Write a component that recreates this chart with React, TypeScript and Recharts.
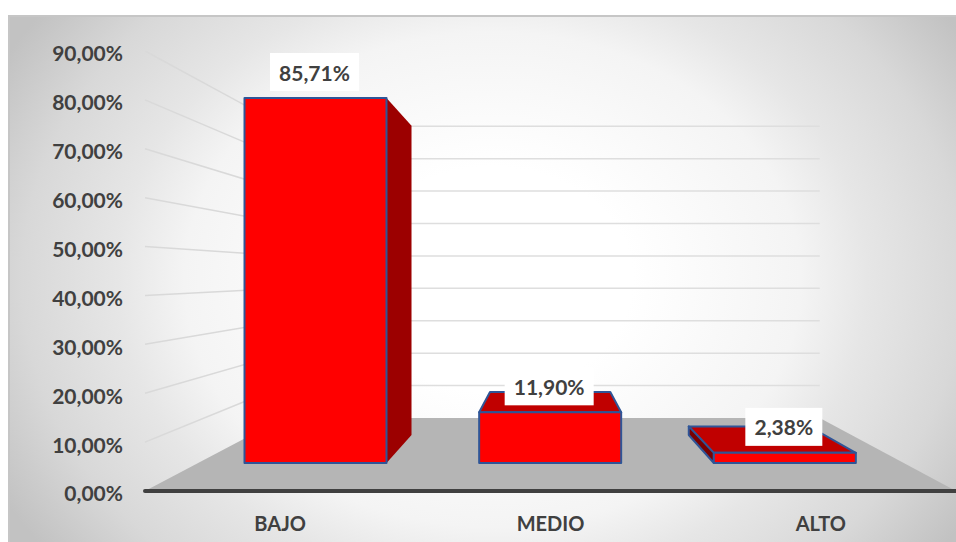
import { Bar, ComposedChart, LabelList, Line, ReferenceArea, ReferenceLine, XAxis, YAxis } from "recharts";

const categories = ["BAJO", "MEDIO", "ALTO"];
const percentages = [85.71, 11.9, 2.38];
const percentLabels = ["85,71%", "11,90%", "2,38%"];
const axisTicks = [0, 10, 20, 30, 40, 50, 60, 70, 80, 90];
const wallLevels = [10, 20, 30, 40, 50, 60, 70, 80, 90];

const data = categories.map((name, i) => ({ name, value: percentages[i], label: percentLabels[i] }));

// the chart is a fake 3D: back wall is smaller than the axis plane, bars stand in between
const wallLeft = 0.171;
const wallRight = 0.832;
const wallBase = 14.93;
const wallStep = 0.663;
const wallValue = (v: number) => wallBase + v * wallStep;
const axisY = 491;
const wallY = 418;

const frontDomain = [-6.575, 96.75];

const vanishX = 550;
const vanishY = 280;
const depth = 0.847;

const textColor = "#404040";
const font = "Lato, sans-serif";

function formatTick(value: number) {
  return `${value},00%`;
}

function Floor(props: any) {
  const { x, y, width, height } = props;
  const left = x + width * wallLeft;
  const right = x + width * wallRight;
  return <polygon points={`${x},${y + height} ${left},${y} ${right},${y} ${x + width},${y + height}`} fill="#b5b5b5" />;
}

function SideLine(props: any) {
  const { x1, x2, y1 } = props;
  const endX = x1 + (x2 - x1) * wallLeft;
  const endY = wallY - wallStep * (axisY - y1);
  return <line x1={x1} y1={y1} x2={endX} y2={endY} stroke="#d9d9d9" strokeWidth={1.5} />;
}

function BackLine(props: any) {
  const { x1, x2, y1 } = props;
  const w = x2 - x1;
  return <line x1={x1 + w * wallLeft} y1={y1} x2={x1 + w * wallRight} y2={y1} stroke="#dedede" strokeWidth={1.5} />;
}

function Bar3D(props: any) {
  const { x, y, width, height } = props;
  const x2 = x + width;
  const y2 = y + height;
  const bx = (px: number) => vanishX + depth * (px - vanishX);
  const by = (py: number) => vanishY + depth * (py - vanishY);
  const edge = { stroke: "#2f5597", strokeWidth: 2, strokeLinejoin: "round" as const };
  return (
    <g>
      {y > vanishY && (
        <polygon points={`${x},${y} ${bx(x)},${by(y)} ${bx(x2)},${by(y)} ${x2},${y}`} fill="#c00000" {...edge} />
      )}
      {x2 < vanishX && (
        <polygon points={`${x2},${y} ${bx(x2)},${by(y)} ${bx(x2)},${by(y2)} ${x2},${y2}`} fill="#9c0000" {...edge} strokeWidth={0} />
      )}
      {x > vanishX && (
        <polygon points={`${x},${y} ${bx(x)},${by(y)} ${bx(x)},${by(y2)} ${x},${y2}`} fill="#7a0000" {...edge} />
      )}
      <rect x={x} y={y} width={width} height={height} fill="#ff0000" {...edge} />
    </g>
  );
}

function ValueLabel(props: any) {
  const { x, y, width, value } = props;
  const boxWidth = String(value).length > 5 ? 89 : 77;
  const cx = x + width / 2 - 1;
  return (
    <g>
      <rect x={cx - boxWidth / 2} y={y - 45} width={boxWidth} height={38} fill="#ffffff" />
      <text x={cx} y={y - 26} textAnchor="middle" dominantBaseline="central" fontFamily={font} fontWeight={700} fontSize={21} fill={textColor}>
        {value}
      </text>
    </g>
  );
}

export default function App() {
  return (
    <div style={{ position: "absolute", left: 0, top: 0, width: 956, height: 542, background: "#ffffff", overflow: "hidden" }}>
      <div
        style={{
          position: "absolute",
          left: 8,
          top: 15,
          width: 948,
          height: 527,
          boxSizing: "border-box",
          borderTop: "2px solid #c6c6c6",
          borderLeft: "2px solid #c6c6c6",
          background:
            "radial-gradient(ellipse 560px 450px at 51% 50%, #ffffff 0%, #ffffff 25%, #f4f4f4 55%, #e6e6e6 67%, #d8d8d8 84%, #c2c2c2 100%)",
        }}
      />
      <div style={{ position: "absolute", left: 0, top: 0 }}>
        <ComposedChart width={956} height={542} data={data} margin={{ top: 51, right: 0, bottom: 21, left: 0 }} barSize={142}>
          <XAxis
            xAxisId="labels"
            dataKey="name"
            height={30}
            interval={0}
            tickLine={false}
            axisLine={{ stroke: textColor, strokeWidth: 4, strokeLinecap: "round" }}
            tickMargin={20}
            tick={{ fontFamily: font, fontWeight: 700, fontSize: 20, fill: textColor }}
          />
          <XAxis xAxisId="bars" dataKey="name" hide height={0} padding={{ left: 53.5, right: 53.5 }} />
          <YAxis
            yAxisId="left"
            width={145}
            domain={[0, 90]}
            ticks={axisTicks}
            interval={0}
            tickFormatter={formatTick}
            tickLine={false}
            axisLine={false}
            tickMargin={16}
            tick={{ fontFamily: font, fontWeight: 700, fontSize: 21, fill: textColor, dy: 3 }}
          />
          <YAxis yAxisId="front" domain={frontDomain} hide width={0} />

          {/* invisible series so the left axis stays alive */}
          <Line xAxisId="labels" yAxisId="left" dataKey="value" stroke="none" dot={false} legendType="none" isAnimationActive={false} />

          <ReferenceArea xAxisId="labels" yAxisId="left" y1={0} y2={wallBase} shape={<Floor />} zIndex={100} />
          {wallLevels.map((v) => (
            <ReferenceLine key={`side-${v}`} xAxisId="labels" yAxisId="left" y={v} shape={<SideLine />} zIndex={100} />
          ))}
          {wallLevels.map((v) => (
            <ReferenceLine key={`back-${v}`} xAxisId="labels" yAxisId="left" y={wallValue(v)} shape={<BackLine />} zIndex={100} />
          ))}

          <Bar xAxisId="bars" yAxisId="front" dataKey="value" shape={<Bar3D />} isAnimationActive={false}>
            <LabelList dataKey="label" content={<ValueLabel />} />
          </Bar>
        </ComposedChart>
      </div>
    </div>
  );
}
